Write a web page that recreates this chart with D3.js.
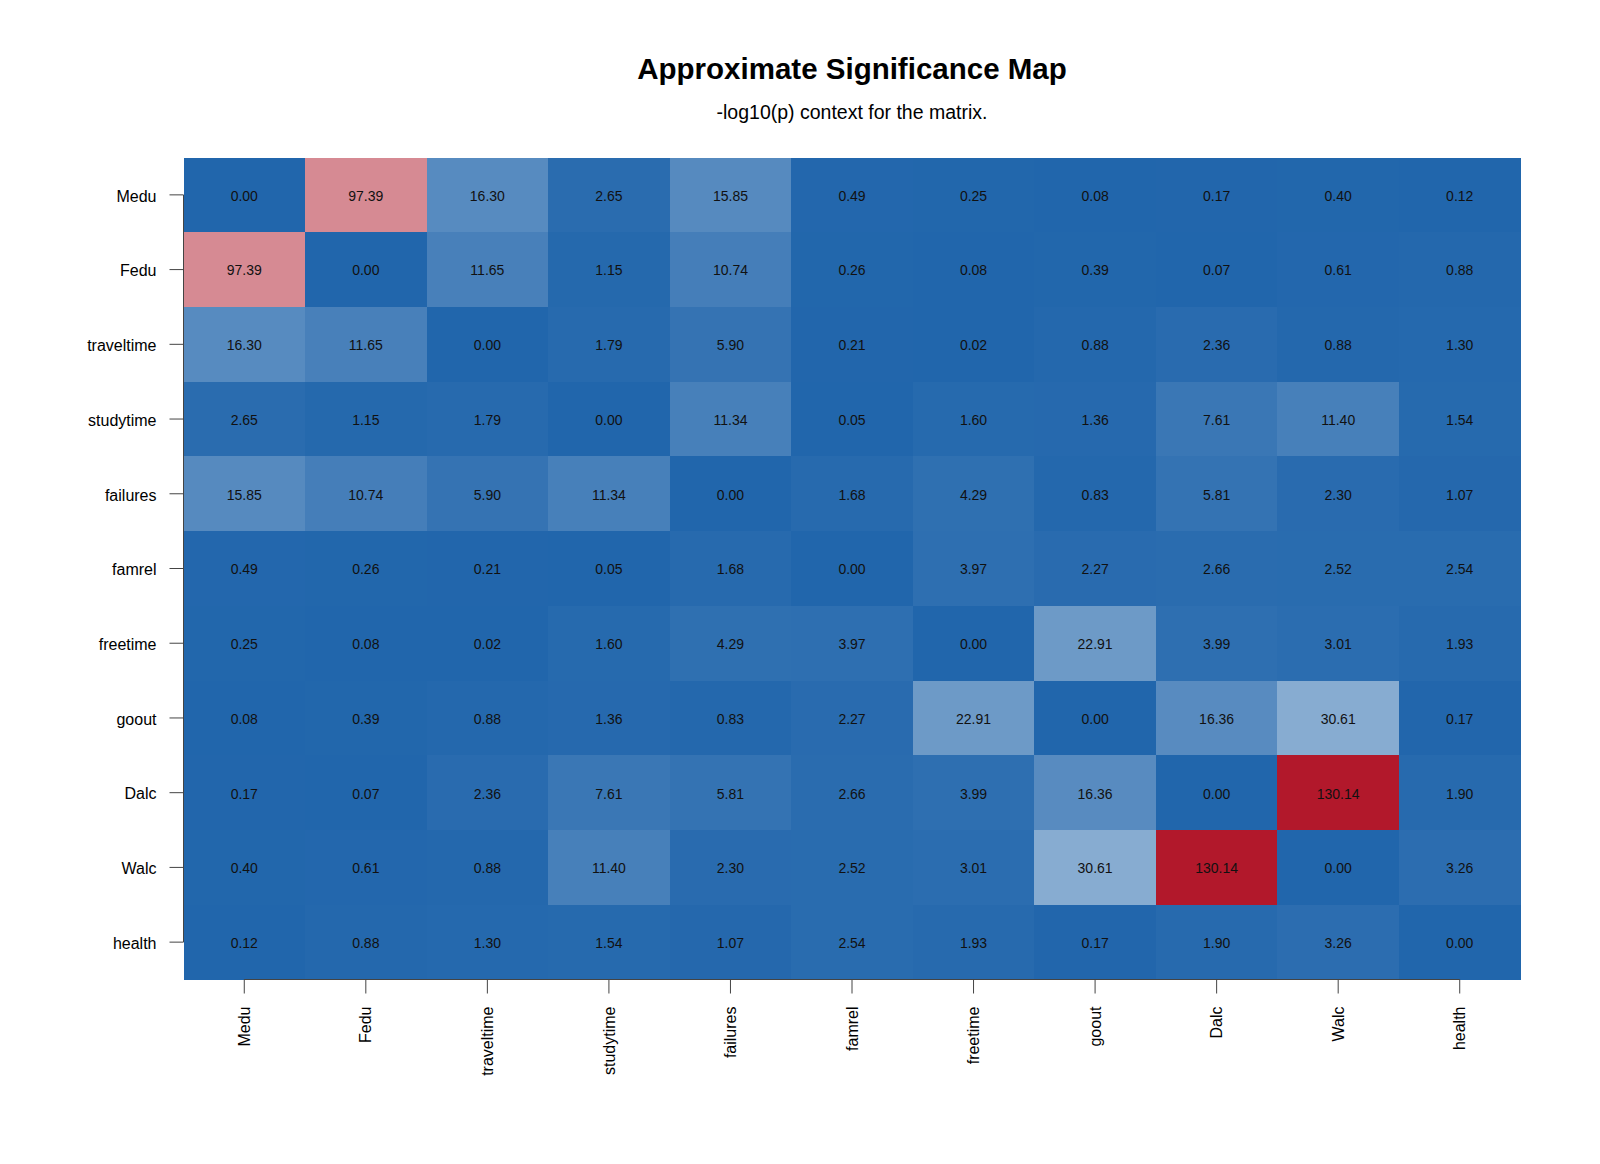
<!DOCTYPE html>
<html>
<head>
<meta charset="utf-8">
<script src="https://cdn.jsdelivr.net/npm/d3@7"></script>
<style>
  body { margin: 0; background: #fff; }
  svg { font-family: Arial, "Liberation Sans", sans-serif; }
</style>
</head>
<body>
<div id="chart"></div>
<script>
const width = 1600
const height = 1164
const margin = ({ top: 157.5, right: 79.5, bottom: 184.5, left: 183.5 })

// variable names (rows top to bottom, columns left to right)
const variables = ['Medu', 'Fedu', 'traveltime', 'studytime', 'failures', 'famrel',
  'freetime', 'goout', 'Dalc', 'Walc', 'health']

// -log10(p) values, one array per row
const medu       = [0.00, 97.39, 16.30, 2.65, 15.85, 0.49, 0.25, 0.08, 0.17, 0.40, 0.12]
const fedu       = [97.39, 0.00, 11.65, 1.15, 10.74, 0.26, 0.08, 0.39, 0.07, 0.61, 0.88]
const traveltime = [16.30, 11.65, 0.00, 1.79, 5.90, 0.21, 0.02, 0.88, 2.36, 0.88, 1.30]
const studytime  = [2.65, 1.15, 1.79, 0.00, 11.34, 0.05, 1.60, 1.36, 7.61, 11.40, 1.54]
const failures   = [15.85, 10.74, 5.90, 11.34, 0.00, 1.68, 4.29, 0.83, 5.81, 2.30, 1.07]
const famrel     = [0.49, 0.26, 0.21, 0.05, 1.68, 0.00, 3.97, 2.27, 2.66, 2.52, 2.54]
const freetime   = [0.25, 0.08, 0.02, 1.60, 4.29, 3.97, 0.00, 22.91, 3.99, 3.01, 1.93]
const goout      = [0.08, 0.39, 0.88, 1.36, 0.83, 2.27, 22.91, 0.00, 16.36, 30.61, 0.17]
const dalc       = [0.17, 0.07, 2.36, 7.61, 5.81, 2.66, 3.99, 16.36, 0.00, 130.14, 1.90]
const walc       = [0.40, 0.61, 0.88, 11.40, 2.30, 2.52, 3.01, 30.61, 130.14, 0.00, 3.26]
const health     = [0.12, 0.88, 1.30, 1.54, 1.07, 2.54, 1.93, 0.17, 1.90, 3.26, 0.00]

const rows = [medu, fedu, traveltime, studytime, failures, famrel, freetime, goout, dalc, walc, health]

const title = 'Approximate Significance Map'
const subtitle = '-log10(p) context for the matrix.'

// flatten to cells
let cells = []
rows.forEach((r, i) => r.forEach((v, j) => cells.push({ row: variables[i], col: variables[j], value: v })))

const maxVal = d3.max(cells, d => d.value)

let xScale = d3.scaleBand()
  .domain(variables)
  .range([margin.left, width - margin.right])

let yScale = d3.scaleBand()
  .domain(variables)
  .range([margin.top, height - margin.bottom])

let color = d3.scaleLinear()
  .domain([0, maxVal / 2, maxVal])
  .range(['#2166AC', '#FAFAFA', '#B2182B'])

const svg = d3.select('#chart').append('svg')
  .attr('width', width)
  .attr('height', height)

svg.append('g')
  .selectAll('rect')
  .data(cells)
  .enter().append('rect')
  .attr('x', d => xScale(d.col))
  .attr('y', d => yScale(d.row))
  .attr('width', xScale.bandwidth())
  .attr('height', yScale.bandwidth())
  .attr('fill', d => color(d.value))
  .attr('shape-rendering', 'crispEdges')

svg.append('g')
  .selectAll('text')
  .data(cells)
  .enter().append('text')
  .attr('x', d => xScale(d.col) + xScale.bandwidth() / 2)
  .attr('y', d => yScale(d.row) + yScale.bandwidth() / 2)
  .attr('dy', '0.42em')
  .attr('text-anchor', 'middle')
  .style('font-size', '14px')
  .attr('fill', '#111')
  .text(d => d.value.toFixed(2))

// axes: R style, line spans first to last tick
const first = variables[0], last = variables[variables.length - 1]
const half = xScale.bandwidth() / 2
const halfY = yScale.bandwidth() / 2

let yAxis = svg.append('g')
  .attr('transform', 'translate(' + margin.left + ',0)')
  .call(d3.axisLeft(yScale).tickSize(14).tickPadding(13))
yAxis.select('.domain')
  .attr('d', 'M0,' + (yScale(first) + halfY) + 'V' + (yScale(last) + halfY))
yAxis.selectAll('line, .domain').attr('stroke', '#444')
yAxis.selectAll('text')
  .attr('dy', '0.42em')
  .style('font-size', '16px')
  .style('font-family', 'Arial, "Liberation Sans", sans-serif')
  .attr('fill', '#000')

let xAxis = svg.append('g')
  .attr('transform', 'translate(0,' + (height - margin.bottom) + ')')
  .call(d3.axisBottom(xScale).tickSize(14))
xAxis.select('.domain')
  .attr('d', 'M' + (xScale(first) + half) + ',0H' + (xScale(last) + half))
xAxis.selectAll('line, .domain').attr('stroke', '#444')
xAxis.selectAll('text')
  .attr('transform', 'rotate(-90)')
  .attr('x', -27)
  .attr('y', 0)
  .attr('dy', '0.35em')
  .style('text-anchor', 'end')
  .style('font-size', '16px')
  .style('font-family', 'Arial, "Liberation Sans", sans-serif')
  .attr('fill', '#000')

// titles
const cx = (margin.left + width - margin.right) / 2
svg.append('text')
  .attr('x', cx)
  .attr('y', 79)
  .attr('text-anchor', 'middle')
  .style('font-size', '29.5px')
  .style('font-weight', 700)
  .text(title)

svg.append('text')
  .attr('x', cx)
  .attr('y', 119)
  .attr('text-anchor', 'middle')
  .style('font-size', '19.5px')
  .text(subtitle)
</script>
</body>
</html>
